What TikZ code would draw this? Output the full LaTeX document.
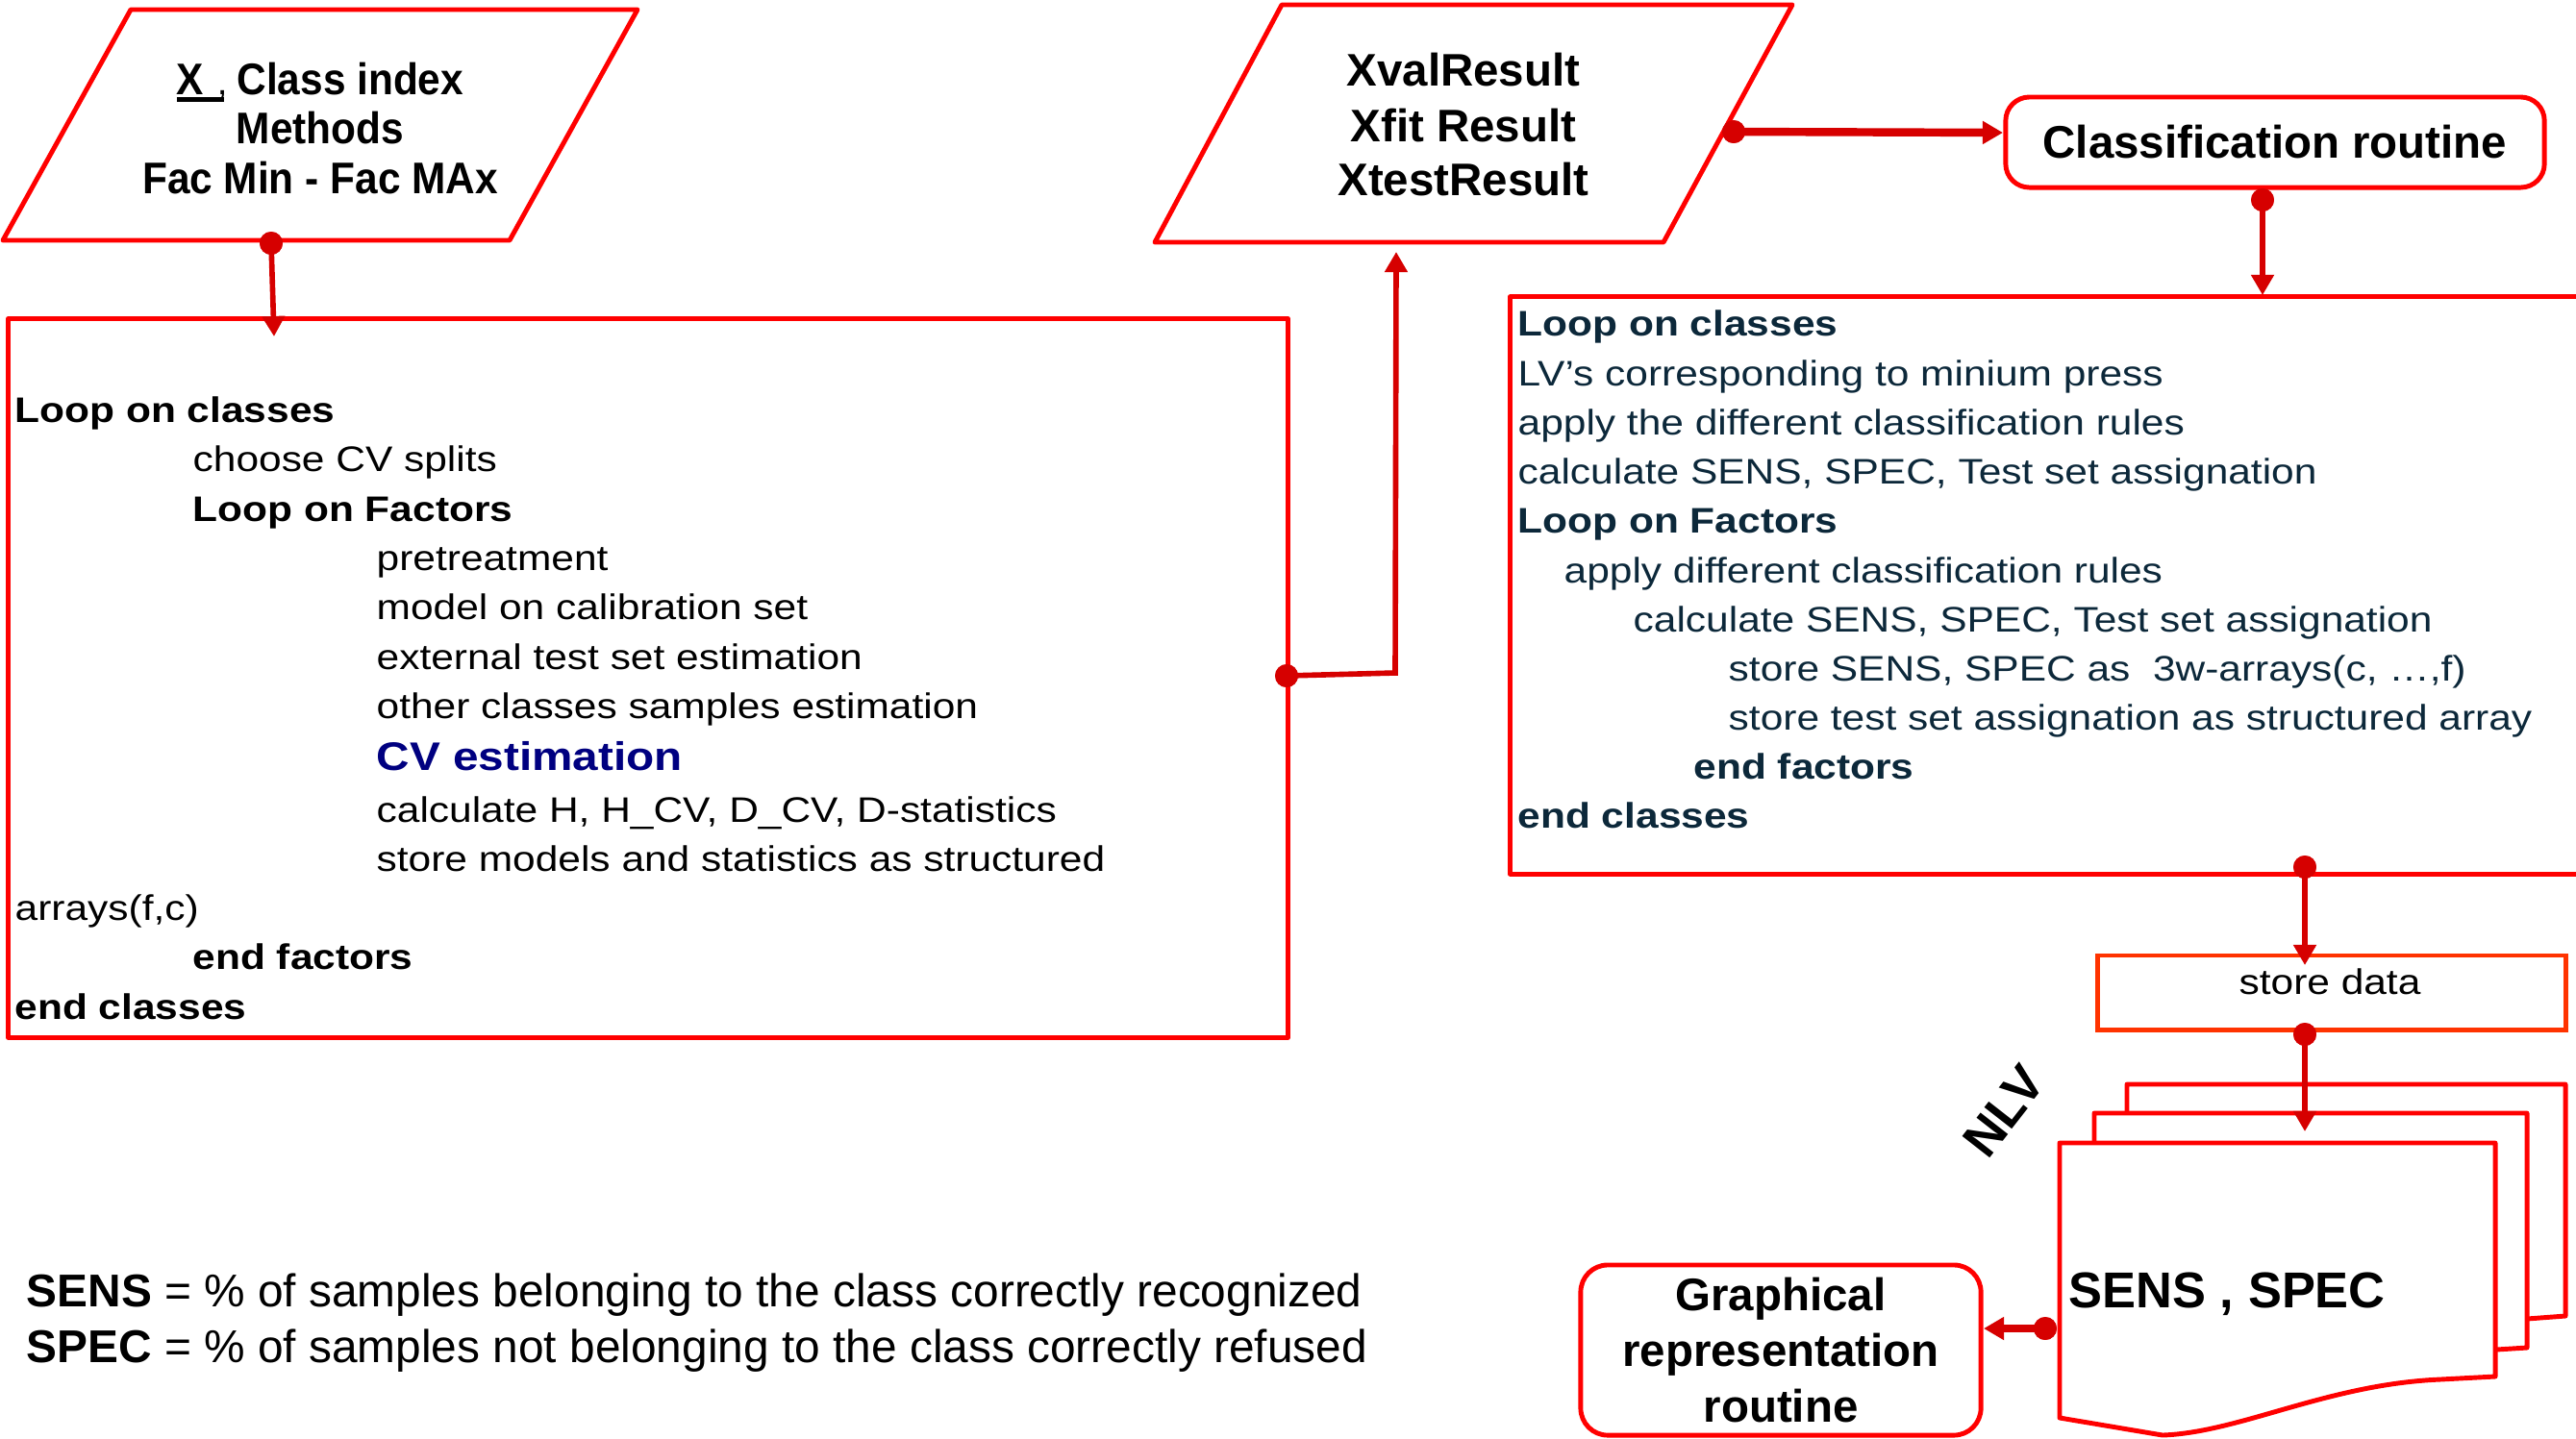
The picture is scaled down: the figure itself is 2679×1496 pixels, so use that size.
\documentclass[tikz,border=0pt]{standalone}
\usepackage{fontspec}
\setmainfont{Liberation Sans}
\newfontfamily\wide[FakeStretch=1.15]{Liberation Sans}
\newfontfamily\narrow[FakeStretch=0.92]{Liberation Sans}
\usetikzlibrary{arrows.meta}
\definecolor{boxred}{RGB}{255,0,0}
\definecolor{conn}{RGB}{214,0,0}
\definecolor{sdred}{RGB}{255,51,0}
\definecolor{navyt}{RGB}{12,40,58}
\definecolor{cvblue}{RGB}{0,0,128}
\begin{document}
\begin{tikzpicture}[x=0.01cm,y=-0.01cm,
  box/.style={draw=boxred, line width=1.4pt, line join=round},
  conline/.style={draw=conn, line width=1.6pt},
  thickcon/.style={draw=conn, line width=2.4pt},
  tip/.style={-{Triangle[length=6pt,width=6.5pt]}},
  dot/.style={circle, fill=conn, inner sep=0pt, minimum size=6.8pt},
  body/.style={anchor=base west, inner sep=0pt, font=\wide\fontsize{10.5}{12}\selectfont},
  bodyb/.style={anchor=base west, inner sep=0pt, font=\wide\bfseries\fontsize{10.5}{12}\selectfont},
  ptext/.style={anchor=base, inner sep=0pt, font=\narrow\bfseries\fontsize{13.1}{14}\selectfont},
  qtext/.style={anchor=base, inner sep=0pt, font=\bfseries\fontsize{13.5}{14}\selectfont},
  legend/.style={anchor=base west, inner sep=0pt, font=\fontsize{13.6}{14}\selectfont},
]
\useasboundingbox (0,0) rectangle (2679,1496);
\fill[white] (0,0) rectangle (2679,1496);

% ---------- input parallelogram ----------
\coordinate (p1a) at (136,10);
\coordinate (p1b) at (663,10);
\coordinate (p1c) at (530,250);
\coordinate (p1d) at (3,250);
\draw[box] (p1a) -- (p1b) -- (p1c) -- (p1d) -- cycle;
\node[ptext] (in1) at (333,98) {\makebox[0pt][l]{\rule[-0.17em]{1.06em}{0.11em}}X\,\,{\fontsize{8}{8}\selectfont,} Class index};
\node[ptext] (in2) at (333,149) {Methods};
\node[ptext] (in3) at (333,201) {Fac Min - Fac MAx};

% ---------- left box ----------
\node[box, minimum width=13.3cm, minimum height=7.47cm, inner sep=0pt] (lbox) at (674,705.5) {};
\node[bodyb] (l1) at (15,439) {Loop on classes};
\node[body] (l2) at (200,490) {choose CV splits};
\node[bodyb] (l3) at (200,542) {Loop on Factors};
\node[body] (l4) at (391,593) {pretreatment};
\node[body] (l5) at (391,644) {model on calibration set};
\node[body] (l6) at (391,696) {external test set estimation};
\node[body] (l7) at (391,747) {other classes samples estimation};
\node[anchor=base west, inner sep=0pt, text=cvblue, font=\wide\bfseries\fontsize{11.8}{13}\selectfont] (l8) at (391,801) {CV estimation};
\node[body] (l9) at (391,855) {calculate H, H\_CV, D\_CV, D-statistics};
\node[body] (l10) at (391,906) {store models and statistics as structured};
\node[body] (l11) at (15,957) {arrays(f,c)};
\node[bodyb] (l12) at (200,1008) {end factors};
\node[bodyb] (l13) at (15,1060) {end classes};

% ---------- result parallelogram ----------
\coordinate (p2a) at (1333,5);
\coordinate (p2b) at (1864,5);
\coordinate (p2c) at (1730,252);
\coordinate (p2d) at (1201,252);
\draw[box] (p2a) -- (p2b) -- (p2c) -- (p2d) -- cycle;
\node[qtext] (r1) at (1522,89) {XvalResult};
\node[qtext] (r2) at (1522,147) {Xfit Result};
\node[qtext] (r3) at (1522,203) {XtestResult};

% ---------- classification routine ----------
\node[box, rounded corners=7pt, minimum width=5.6cm, minimum height=0.94cm, inner sep=0pt,
      font=\bfseries\fontsize{13.5}{14}\selectfont] (cls) at (2366,148) {Classification routine};

% ---------- right box ----------
\node[box, minimum width=11.29cm, minimum height=6cm, inner sep=0pt] (rbox) at (2135.5,609) {};
\begin{scope}[every node/.append style={text=navyt}]
\node[bodyb] (m1) at (1578,349) {Loop on classes};
\node[body] (m2) at (1578,401) {LV’s corresponding to minium press};
\node[body] (m3) at (1578,452) {apply the different classification rules};
\node[body] (m4) at (1578,503) {calculate SENS, SPEC, Test set assignation};
\node[bodyb] (m5) at (1578,554) {Loop on Factors};
\node[body] (m6) at (1626,606) {apply different classification rules};
\node[body] (m7) at (1698,657) {calculate SENS, SPEC, Test set assignation};
\node[body] (m8) at (1797,708) {store SENS, SPEC as\ \ 3w-arrays(c, …,f)};
\node[body] (m9) at (1797,759) {store test set assignation as structured array};
\node[bodyb] (m10) at (1761,810) {end factors};
\node[bodyb] (m11) at (1578,861) {end classes};
\end{scope}

% ---------- store data ----------
\node[draw=sdred, line width=1.4pt, minimum width=4.86cm, minimum height=0.77cm, inner sep=0pt] (sd) at (2425,1032.5) {};
\node[anchor=base, inner sep=0pt, font=\wide\fontsize{10.5}{12}\selectfont] (sdt) at (2423,1034) {store data};

% ---------- stacked documents ----------
\draw[box] (2212,1158) -- (2212,1128) -- (2668,1128) -- (2668,1369) -- (2628,1372);
\draw[box] (2178,1189) -- (2178,1158) -- (2628,1158) -- (2628,1402) -- (2596,1404);
\draw[box] (2142,1189) -- (2142,1475) -- (2249,1493) .. controls (2330,1490) and (2420,1440) .. (2538,1435) -- (2595,1432) -- (2595,1189) -- cycle;
\node[anchor=base west, inner sep=0pt, font=\bfseries\fontsize{14.9}{16}\selectfont] (ss) at (2151,1360) {SENS , SPEC};
\node[rotate=52, inner sep=0pt, font=\bfseries\fontsize{15}{16}\selectfont] (nlv) at (2084,1156) {NLV};

% ---------- graphical routine ----------
\node[box, rounded corners=8pt, minimum width=4.16cm, minimum height=1.77cm, inner sep=0pt, align=center,
      font=\bfseries\fontsize{13.5}{16.5}\selectfont] (gr) at (1852,1404.5) {Graphical\\representation\\routine};

% ---------- legend ----------
\node[legend] (leg1) at (27,1359) {\textbf{SENS} = \% of samples belonging to the class correctly recognized};
\node[legend] (leg2) at (27,1417) {\textbf{SPEC} = \% of samples not belonging to the class correctly refused};

% ---------- connectors ----------
\node[dot] (d1) at (282,253) {};
\coordinate (a1) at (285,350);
\node[dot] (d2) at (1338,703) {};
\coordinate (b2) at (1451,700);
\coordinate (a2) at (1452,262);
\node[dot] (d3) at (1803,137) {};
\coordinate (a3) at (2083,138);
\node[dot] (d4) at (2353,208) {};
\coordinate (a4) at (2353,307);
\node[dot] (d5) at (2397,902) {};
\coordinate (a5) at (2397,1004);
\node[dot] (d6) at (2397,1076) {};
\coordinate (a6) at (2397,1177);
\node[dot] (d7) at (2127,1382) {};
\coordinate (a7) at (2063,1382);

\draw[conline,tip] (d1.center) -- (a1);
\draw[conline,tip] (d2.center) -- (b2) -- (a2);
\draw[thickcon,tip] (d3.center) -- (a3);
\draw[conline,tip] (d4.center) -- (a4);
\draw[conline,tip] (d5.center) -- (a5);
\draw[conline,tip] (d6.center) -- (a6);
\draw[thickcon,tip] (d7.center) -- (a7);
\foreach \d in {d1,d2,d3,d4,d5,d6,d7} \fill[conn] (\d) circle[radius=3.4pt];
\end{tikzpicture}
\end{document}
